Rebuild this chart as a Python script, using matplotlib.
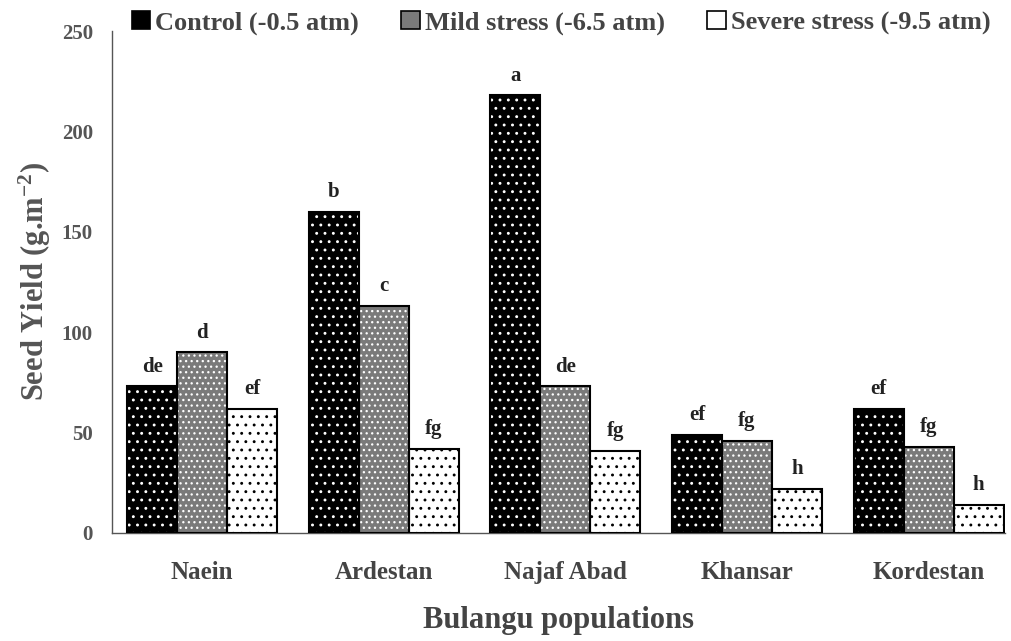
import numpy as np
import matplotlib
matplotlib.use("Agg")
import matplotlib.pyplot as plt
import matplotlib.patches as mpatches

populations = ["Naein", "Ardestan", "Najaf Abad", "Khansar", "Kordestan"]
series_names = ["Control (-0.5 atm)", "Mild stress (-6.5 atm)", "Severe stress (-9.5 atm)"]
control = [73, 160, 218, 49, 62]
mild = [90, 113, 73, 46, 43]
severe = [62, 42, 41, 22, 14]
letters_control = ["de", "b", "a", "ef", "ef"]
letters_mild = ["d", "c", "de", "fg", "fg"]
letters_severe = ["ef", "fg", "fg", "h", "h"]

plt.rcParams['font.family'] = ['Liberation Serif', 'DejaVu Serif']
plt.rcParams['font.weight'] = 'bold'
plt.rcParams['hatch.linewidth'] = 0.9
plt.rcParams['mathtext.fontset'] = 'custom'
plt.rcParams['mathtext.rm'] = 'Liberation Serif:bold'
plt.rcParams['mathtext.it'] = 'Liberation Serif:bold'
plt.rcParams['mathtext.bf'] = 'Liberation Serif:bold'
plt.rcParams['mathtext.default'] = 'rm'

fig = plt.figure(figsize=(10.11, 6.41), dpi=100)
ax = fig.add_axes([0.111, 0.1685, 0.883, 0.783])

x = np.arange(len(populations))
w = 0.275
styles = [
    dict(face="black", hatch_col="white", hatch=".."),
    dict(face="#7a7a7a", hatch_col="white", hatch="..."),
    dict(face="white", hatch_col="black", hatch=".."),
]
data = [control, mild, severe]
letters = [letters_control, letters_mild, letters_severe]
handles = []
for i, (vals, st) in enumerate(zip(data, styles)):
    pos = x + (i - 1) * w
    ax.bar(pos, vals, w, color=st["face"], edgecolor=st["hatch_col"],
           hatch=st["hatch"], linewidth=0, zorder=2)
    ax.bar(pos, vals, w, fill=False, edgecolor="black", linewidth=1.5, zorder=3)
    for p, v, t in zip(pos, vals, letters[i]):
        ax.annotate(t, (p, v), xytext=(0, 7), textcoords="offset points",
                    ha="center", va="bottom", fontsize=15, fontweight="bold",
                    color="#222222")
    handles.append(mpatches.Patch(facecolor=st["face"], edgecolor="black",
                                  linewidth=1.2))

ax.set_xlim(-0.495, 4.42)
ax.set_ylim(0, 250)
ax.set_yticks([0, 50, 100, 150, 200, 250])
ax.set_xticks(x)
ax.set_xticklabels(populations)
ax.tick_params(axis='y', length=0, labelsize=15, labelcolor="#555555", pad=14)
ax.tick_params(axis='x', length=0, labelsize=18, labelcolor="#444444", pad=20)
for s in ["top", "right"]:
    ax.spines[s].set_visible(False)
ax.spines["left"].set_color("#555555")
ax.spines["bottom"].set_color("#555555")
ax.spines["left"].set_linewidth(1)
ax.spines["bottom"].set_linewidth(1)

ax.set_ylabel("Seed Yield (g.m$^{-2}$)", fontsize=22, fontweight="bold",
              color="#555555", labelpad=6)
ax.set_xlabel("Bulangu populations", fontsize=22, fontweight="bold",
              color="#444444", labelpad=16)

leg = fig.legend(handles, series_names, loc="upper center", ncol=3,
                 bbox_to_anchor=(0.555, 1.02), frameon=False, fontsize=19,
                 handlelength=0.7, handleheight=0.7, handletextpad=0.2,
                 columnspacing=1.6)
for t in leg.get_texts():
    t.set_color("#444444")

fig.savefig("out.png", dpi=100)
